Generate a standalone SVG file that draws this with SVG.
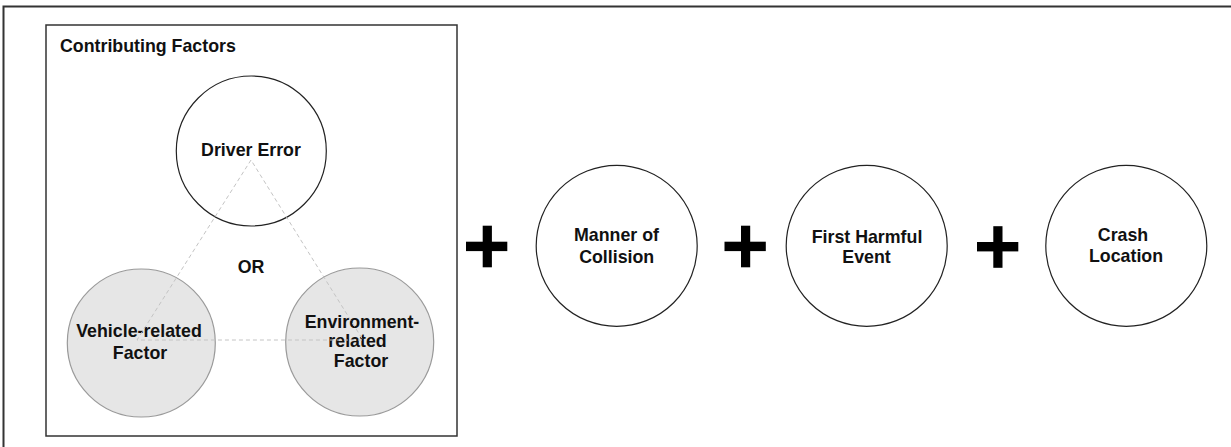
<svg xmlns="http://www.w3.org/2000/svg" width="1231" height="447" viewBox="0 0 1231 447">
<style>
.lbl{font-family:"Liberation Sans",Arial,sans-serif;font-weight:bold;font-size:17.8px;fill:#111;text-anchor:middle}
.white{fill:#fff;stroke:#222;stroke-width:1.2}
.grey{fill:#e6e6e6;stroke:#9a9a9a;stroke-width:1.2}
.dash{stroke:#c4c4c4;stroke-width:1;stroke-dasharray:4 3;fill:none}
.plus{fill:#000}
</style>
<rect width="1231" height="447" fill="#fff"/>
<path d="M3.5,447 V6.5 H1231" fill="none" stroke="#333" stroke-width="2"/>
<g id="contributing-factors">
<rect x="46" y="25" width="411" height="411" fill="#fff" stroke="#333" stroke-width="1.5"/>
<text class="lbl" x="60" y="52" style="text-anchor:start">Contributing Factors</text>
</g>
<g id="driver-error">
<circle class="white" cx="251.3" cy="151" r="75"/>
<text class="lbl" x="251" y="156">Driver Error</text>
</g>
<g id="or-label">
<text class="lbl" x="251" y="273">OR</text>
</g>
<g id="vehicle-factor">
<circle class="grey" cx="141.3" cy="343" r="74"/>
<text class="lbl" x="139" y="337">Vehicle-related</text>
<text class="lbl" x="140" y="358.5">Factor</text>
</g>
<g id="environment-factor">
<circle class="grey" cx="359.7" cy="342" r="74"/>
<text class="lbl" x="362" y="327.5">Environment-</text>
<text class="lbl" x="357.5" y="347">related</text>
<text class="lbl" x="361" y="367">Factor</text>
</g>
<g id="connectors">
<path class="dash" d="M251,160 L137,340 L363,340 Z"/>
</g>
<g id="plus-1"><rect class="plus" x="466" y="241.7" width="41.3" height="9.4"/><rect class="plus" x="482.7" y="225.7" width="9.2" height="41.6"/></g>
<g id="manner-of-collision">
<circle class="white" cx="616.7" cy="245.8" r="80.5"/>
<text class="lbl" x="616.5" y="241.3">Manner of</text>
<text class="lbl" x="616.7" y="262.5">Collision</text>
</g>
<g id="plus-2"><rect class="plus" x="724.5" y="241.7" width="41.3" height="9.4"/><rect class="plus" x="741" y="225.7" width="9.2" height="41.6"/></g>
<g id="first-harmful-event">
<circle class="white" cx="866.7" cy="245.8" r="80.5"/>
<text class="lbl" x="867" y="242.5">First Harmful</text>
<text class="lbl" x="866.5" y="263.3">Event</text>
</g>
<g id="plus-3"><rect class="plus" x="977" y="242" width="41.3" height="9.4"/><rect class="plus" x="993.3" y="226.2" width="9.2" height="41.6"/></g>
<g id="crash-location">
<circle class="white" cx="1126.3" cy="245.8" r="80.5"/>
<text class="lbl" x="1123" y="240.7">Crash</text>
<text class="lbl" x="1126" y="261.7">Location</text>
</g>
</svg>
